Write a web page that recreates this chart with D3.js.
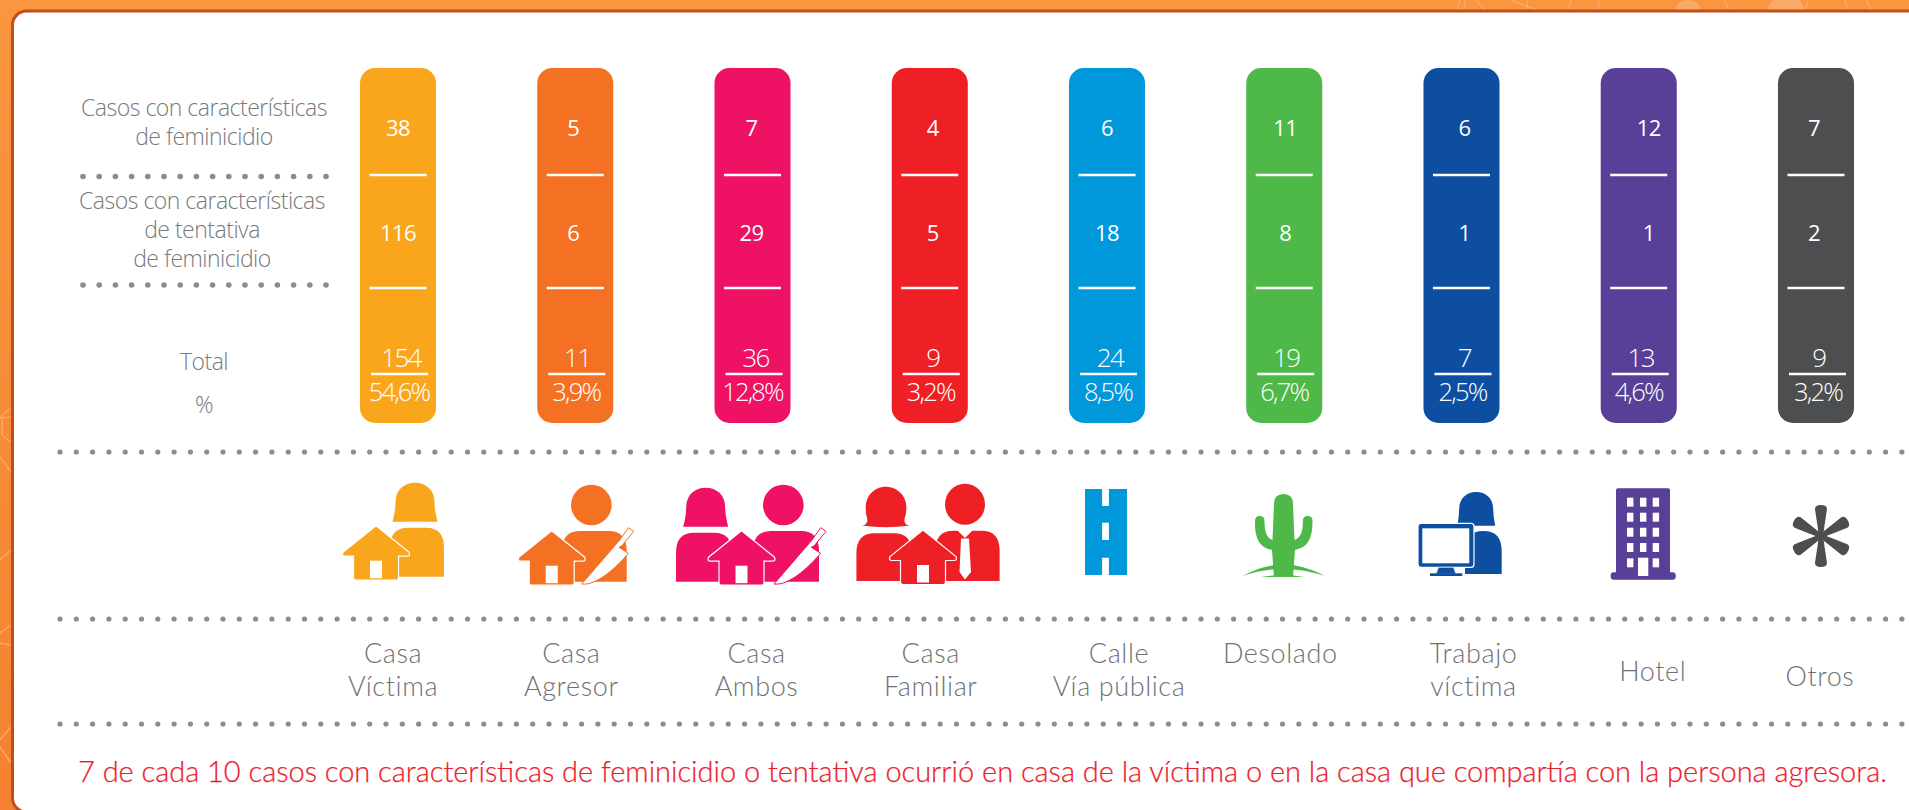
<!DOCTYPE html>
<html lang="es">
<head>
<meta charset="utf-8">
<title>Lugar de los hechos</title>
<script src="https://cdnjs.cloudflare.com/ajax/libs/d3/7.8.5/d3.min.js"></script>
<style>
    html, body { margin: 0; padding: 0; background: #fff; overflow: hidden; }
    text { font-family: "Open Sans", sans-serif; }
</style>
</head>
<body>
<div id="chart-area"></div>
<script>
// Chart data
const categories = ["Casa Víctima", "Casa Agresor", "Casa Ambos", "Casa Familiar", "Calle Vía pública", "Desolado", "Trabajo víctima", "Hotel", "Otros"];
const feminicidio = [38, 5, 7, 4, 6, 11, 6, 12, 7];
const tentativa = [116, 6, 29, 5, 18, 8, 1, 1, 2];
const totals = [154, 11, 36, 9, 24, 19, 7, 13, 9];
const percents = ["54,6%", "3,9%", "12,8%", "3,2%", "8,5%", "6,7%", "2,5%", "4,6%", "3,2%"];
const colors = ["#FAA61C", "#F47022", "#EE1164", "#EF1F26", "#0097DB", "#4EB848", "#0D4EA1", "#583F98", "#4D4E50"];
const nameLines = [["Casa", "Víctima"], ["Casa", "Agresor"], ["Casa", "Ambos"], ["Casa", "Familiar"], ["Calle", "Vía pública"], ["Desolado"], ["Trabajo", "víctima"], ["Hotel"], ["Otros"]];
const note = "7 de cada 10 casos con características de feminicidio o tentativa ocurrió en casa de la víctima o en la casa que compartía con la persona agresora.";

// Set up dimensions
const width = 1909;
const height = 810;
const grey = "#77797C";

// Small hand adjustments, the labels in the original are not centred on the bars
const valueNudge = [0, -2, -1, 3, 0, 1, 3, 10, -2];
const totalNudge = [3, 2, 3, 3, 3, 2, 3, 2, 3];
const percentNudge = [1, 1, 0, 1, 1, 0, 1, 0, 2];
const nameNudge = [-5, -4, 4, 1, 12, -4, 12, 14, 4];
const nameBaseline = [663, 663, 663, 663, 663, 663, 663, 681, 686];

const svg = d3.select("#chart-area")
    .append("svg")
    .attr("width", width)
    .attr("height", height)
    .style("display", "block");

const defs = svg.append("defs");
const grad = defs.append("linearGradient")
    .attr("id", "bg")
    .attr("x1", 0).attr("y1", 0).attr("x2", 0).attr("y2", 1);
grad.append("stop").attr("offset", 0).attr("stop-color", "#FA963F");
grad.append("stop").attr("offset", 1).attr("stop-color", "#F58230");

// Orange background with the faint pattern that shows around the panel
svg.append("rect").attr("width", width).attr("height", height).attr("fill", "url(#bg)");

const pattern = svg.append("g").attr("stroke", "#FBA967").attr("stroke-width", 1.5).attr("fill", "none");
[[0, 417, 11, 408], [0, 418, 11, 417], [2, 418, 2, 435], [2, 435, 11, 442], [0, 457, 11, 472], [0, 560, 11, 550],
 [0, 633, 11, 625], [0, 643, 11, 645], [0, 740, 11, 727], [0, 747, 11, 763],
 [1457, 10, 1460, 0], [1464, 10, 1465, 0], [1485, 10, 1476, 0], [1511, 0, 1537, 10], [1526, 10, 1528, 0],
 [1568, 10, 1571, 0], [1598, 10, 1599, 0], [1729, 10, 1724, 0], [1805, 10, 1808, 0], [1848, 10, 1845, 0], [1872, 10, 1866, 0]]
    .forEach(d => pattern.append("line").attr("x1", d[0]).attr("y1", d[1]).attr("x2", d[2]).attr("y2", d[3]));
svg.append("circle").attr("cx", 1688).attr("cy", 14).attr("r", 14).attr("fill", "#FBA967");
svg.append("circle").attr("cx", 1786).attr("cy", 14).attr("r", 19).attr("fill", "#FBA967");

// White panel, runs off the right and bottom edges
svg.append("rect")
    .attr("x", 12.5).attr("y", 11)
    .attr("width", 2000).attr("height", 801)
    .attr("rx", 14)
    .attr("fill", "#fff")
    .attr("stroke", "#C24E18")
    .attr("stroke-width", 3);

// Band scale for the nine columns
const x = d3.scaleBand().domain(categories).range([360, 1854]).paddingInner(0.571);
const barWidth = x.bandwidth();
const center = d => x(d) + barWidth / 2;

// Rows inside the bars
const rowY = d3.scaleOrdinal()
    .domain(["feminicidio", "tentativa", "total", "percent"])
    .range([136, 241, 367, 401]);

const columns = svg.selectAll(".column")
    .data(categories)
    .enter()
    .append("g")
    .attr("class", "column");

columns.append("rect")
    .attr("class", "bar")
    .attr("x", d => x(d))
    .attr("y", 68)
    .attr("width", barWidth)
    .attr("height", 355)
    .attr("rx", 15)
    .attr("fill", (d, i) => colors[i]);

// White rules inside the bars
[[175, 0], [288, 0], [374, 1.5]].forEach(r => {
    columns.append("line")
        .attr("x1", d => center(d) - 28.5 + r[1])
        .attr("x2", d => center(d) + 28.5 + r[1])
        .attr("y1", r[0])
        .attr("y2", r[0])
        .attr("stroke", "#fff")
        .attr("stroke-width", 2.4);
});

function barText(values, row, nudge, size, spacing, weight) {
    columns.append("text")
        .attr("x", (d, i) => center(d) + nudge[i])
        .attr("y", rowY(row))
        .attr("text-anchor", "middle")
        .attr("fill", "#fff")
        .style("font-size", size + "px")
        .style("font-weight", weight)
        .style("letter-spacing", spacing + "px")
        .text((d, i) => values[i]);
}
barText(feminicidio, "feminicidio", valueNudge, 22, -0.5, 400);
barText(tentativa, "tentativa", valueNudge, 22, -0.5, 400);
barText(totals, "total", totalNudge, 26, -1.6, 300);
barText(percents, "percent", percentNudge, 25.5, -1.8, 300);

// Row labels on the left
const rowLabels = [
    ["Casos con características", 204, 116], ["de feminicidio", 204, 145],
    ["Casos con características", 202, 209], ["de tentativa", 202, 238], ["de feminicidio", 202, 267],
    ["Total", 204, 370], ["%", 204, 413]
];
svg.selectAll(".row-label")
    .data(rowLabels)
    .enter()
    .append("text")
    .attr("class", "row-label")
    .attr("x", d => d[1])
    .attr("y", d => d[2])
    .attr("text-anchor", "middle")
    .attr("fill", grey)
    .style("font-size", "23px")
    .style("font-weight", 300)
    .style("letter-spacing", "-0.5px")
    .text(d => d[0]);

// Dotted separators
function dots(y, x0, x1, step, r) {
    svg.append("g").selectAll("circle")
        .data(d3.range(x0, x1, step))
        .enter()
        .append("circle")
        .attr("cx", d => d)
        .attr("cy", y)
        .attr("r", r)
        .attr("fill", "#8A8C8E");
}
dots(176.5, 83, 330, 16.2, 2.8);
dots(285, 83, 330, 16.2, 2.8);
dots(452, 60, 1905, 16.3, 2.6);
dots(619, 60, 1905, 16.3, 2.6);
dots(724, 60, 1905, 16.3, 2.6);

// Pictogram pieces, drawn in page pixels around an anchor and moved with the scale
function womanHead(g, cx, top, h, hw, fw, fill) {
    g.append("path")
        .attr("d", `M${cx - fw},${top + h} Q${cx - hw},${top + h * 0.72} ${cx - hw},${top + h * 0.5}
            C${cx - hw},${top + h * 0.18} ${cx - hw * 0.55},${top} ${cx},${top}
            C${cx + hw * 0.55},${top} ${cx + hw},${top + h * 0.18} ${cx + hw},${top + h * 0.5}
            Q${cx + hw},${top + h * 0.72} ${cx + fw},${top + h} Z`)
        .attr("fill", fill);
}

function body(g, l, r, t, b, fill) {
    g.append("path")
        .attr("d", `M${l},${b} L${l},${t + 20} Q${l},${t} ${l + 18},${t} L${r - 18},${t} Q${r},${t} ${r},${t + 20} L${r},${b} Z`)
        .attr("fill", fill);
}

function house(g, ax, ay, fill) {
    g.append("path")
        .attr("d", `M${ax},${ay} L${ax + 33},${ay + 26.5} Q${ax + 34.5},${ay + 30.5} ${ax + 31},${ay + 30.5} L${ax + 22.5},${ay + 30.5}
            L${ax + 22.5},${ay + 52} Q${ax + 22.5},${ay + 54.5} ${ax + 20},${ay + 54.5} L${ax - 20},${ay + 54.5} Q${ax - 22.5},${ay + 54.5} ${ax - 22.5},${ay + 52}
            L${ax - 22.5},${ay + 30.5} L${ax - 31},${ay + 30.5} Q${ax - 34.5},${ay + 30.5} ${ax - 33},${ay + 26.5} Z`)
        .attr("fill", fill)
        .attr("stroke", "#fff")
        .attr("stroke-width", 1.2);
    g.append("rect")
        .attr("x", ax - 6).attr("y", ay + 35)
        .attr("width", 12).attr("height", 17.5)
        .attr("fill", "#fff");
}

function knife(g, tx, ty, fill) {
    g.append("path")
        .attr("d", `M${tx},${ty} L${tx + 38},${ty - 44} L${tx + 46.7},${ty - 56.3} L${tx + 52},${ty - 52.7} L${tx + 40},${ty - 38}
            L${tx + 37.3},${ty - 36.7} L${tx + 46.7},${ty - 30.7} C${tx + 35},${ty - 17} ${tx + 15},${ty + 2} ${tx},${ty} Z`)
        .attr("fill", "#fff")
        .attr("stroke", fill)
        .attr("stroke-width", 1);
}

const icons = [
    (g, c) => {
        womanHead(g, 415, 482.7, 39, 19.5, 22.5, c);
        body(g, 390, 444, 527.7, 576.7, c);
        house(g, 376, 525.7, c);
    },
    (g, c) => {
        g.append("circle").attr("cx", 591.3).attr("cy", 505).attr("r", 20.3).attr("fill", c);
        body(g, 562, 626.7, 531, 581.7, c);
        house(g, 551.7, 530.7, c);
        knife(g, 581.7, 584, c);
    },
    (g, c) => {
        womanHead(g, 705.7, 487.7, 39, 19.5, 22.5, c);
        body(g, 676, 732, 532.7, 581.7, c);
        g.append("circle").attr("cx", 783.3).attr("cy", 505).attr("r", 20.3).attr("fill", c);
        body(g, 753, 819, 531, 581.7, c);
        house(g, 741.5, 530.7, c);
        knife(g, 774, 584, c);
    },
    (g, c) => {
        // this one has a curled hair line
        g.append("path")
            .attr("d", `M862,525.5 Q867,525 867.5,520 Q865.5,514 865.7,507 C866,495 875,486.7 885.7,486.7 C896.5,486.7 906.4,495 906.4,507
                Q906.4,514 904.3,520 Q904.5,525 909.6,525.5 Q886,529 862,525.5 Z`)
            .attr("fill", c);
        body(g, 856.4, 912, 533.3, 581, c);
        g.append("ellipse").attr("cx", 965).attr("cy", 504.3).attr("rx", 20).attr("ry", 20.5).attr("fill", c);
        body(g, 935.4, 999.6, 530.7, 581, c);
        // collar and tie
        g.append("path").attr("d", "M957,530 L965,538 L973,530 Z").attr("fill", "#fff");
        g.append("path").attr("d", "M961,538.5 L969,538.5 L971,572 L965,579.5 L959.5,572 Z").attr("fill", "#fff");
        house(g, 923, 530, c);
    },
    (g, c) => {
        g.append("rect").attr("x", 1085).attr("y", 489).attr("width", 42).attr("height", 86).attr("fill", c);
        [[489, 17], [522.7, 17.3], [557.7, 17.3]].forEach(d => {
            g.append("rect").attr("x", 1102.1).attr("y", d[0]).attr("width", 6.8).attr("height", d[1]).attr("fill", "#fff");
        });
    },
    (g, c) => {
        // ground and trunk
        g.append("path").attr("d", "M1242.5,576 Q1283,553 1325,576 Q1283,562 1242.5,576 Z").attr("fill", c);
        g.append("path").attr("d", "M1261,577 Q1283,573 1304,577 Z").attr("fill", c);
        g.append("path")
            .attr("d", `M1274,577 L1272,550 L1272.5,540 L1274,504 Q1274,494 1283.5,494 Q1293,494 1293,504 L1294.5,540 L1295,550 L1293,577 Z`)
            .attr("fill", c);
        // arms
        g.append("path")
            .attr("d", "M1273,540 Q1264,538 1264.5,521 Q1264.5,516 1259.7,516 Q1255,516 1255,521 Q1254,548 1273,550 Z")
            .attr("fill", c);
        g.append("path")
            .attr("d", "M1294,540 Q1303,538 1302.9,521 Q1302.9,516 1307.7,516 Q1312.5,516 1312.5,521 Q1313,548 1294,550 Z")
            .attr("fill", c);
    },
    (g, c) => {
        womanHead(g, 1476.2, 492, 33.7, 17, 19, c);
        body(g, 1465, 1501.7, 531, 574, c);
        // monitor
        g.append("rect").attr("x", 1418).attr("y", 523.3).attr("width", 56).attr("height", 44).attr("rx", 3)
            .attr("fill", c).attr("stroke", "#fff").attr("stroke-width", 1.2);
        g.append("rect").attr("x", 1422.3).attr("y", 528.3).attr("width", 47).attr("height", 35).attr("fill", "#fff");
        g.append("path").attr("d", "M1438.5,567.3 L1453.5,567.3 L1456,574 L1436,574 Z")
            .attr("fill", c).attr("stroke", "#fff").attr("stroke-width", 0.6);
        g.append("rect").attr("x", 1430).attr("y", 573.3).attr("width", 32.3).attr("height", 2.7).attr("fill", c);
    },
    (g, c) => {
        g.append("rect").attr("x", 1616).attr("y", 488.3).attr("width", 54).attr("height", 88).attr("rx", 2).attr("fill", c);
        g.append("rect").attr("x", 1610.7).attr("y", 572.3).attr("width", 65).attr("height", 7.4).attr("rx", 3).attr("fill", c);
        [497.7, 512.7, 527.7, 543, 558.3].forEach((wy, row) => {
            [1627, 1640, 1652.7].forEach((wx, col) => {
                if (row === 4 && col === 1) return; // the door takes this one
                g.append("rect").attr("x", wx).attr("y", wy).attr("width", 6.4).attr("height", 9).attr("fill", "#fff");
            });
        });
        g.append("rect").attr("x", 1638).attr("y", 557.7).attr("width", 10.3).attr("height", 18.3).attr("fill", "#fff");
    },
    (g, c) => {
        d3.range(6).forEach(i => {
            g.append("path")
                .attr("d", "M-2,0 L-6,-27 Q-6,-31 0,-31 Q6,-31 6,-27 L2,0 Z")
                .attr("transform", `translate(1821,536) rotate(${i * 60})`)
                .attr("fill", c);
        });
    }
];

// Anchor is where each pictogram was measured, so the scale still places it
const iconAnchor = [398, 575.25, 752.5, 929.75, 1107, 1284.25, 1461.5, 1638.75, 1816];

columns.append("g")
    .attr("class", "icon")
    .attr("transform", (d, i) => `translate(${center(d) - iconAnchor[i]},0)`)
    .each(function(d, i) {
        icons[i](d3.select(this), colors[i]);
    });

// Place names under the pictograms
columns.append("text")
    .attr("class", "name")
    .attr("text-anchor", "middle")
    .attr("fill", "#6F7174")
    .style("font-family", "Lato, sans-serif")
    .style("font-size", "27px")
    .style("font-weight", 300)
    .style("letter-spacing", "0.6px")
    .each(function(d, i) {
        d3.select(this).selectAll("tspan")
            .data(nameLines[i])
            .enter()
            .append("tspan")
            .attr("x", center(d) + nameNudge[i])
            .attr("y", (line, j) => nameBaseline[i] + j * 33)
            .text(line => line);
    });

// Closing sentence
svg.append("text")
    .attr("x", 78)
    .attr("y", 782)
    .attr("fill", "#ED1C2E")
    .attr("stroke", "#ED1C2E")
    .attr("stroke-width", 0.25)
    .attr("textLength", 1809)
    .style("font-family", "Lato, sans-serif")
    .style("font-size", "29px")
    .style("font-weight", 300)
    .text(note);
</script>
</body>
</html>
